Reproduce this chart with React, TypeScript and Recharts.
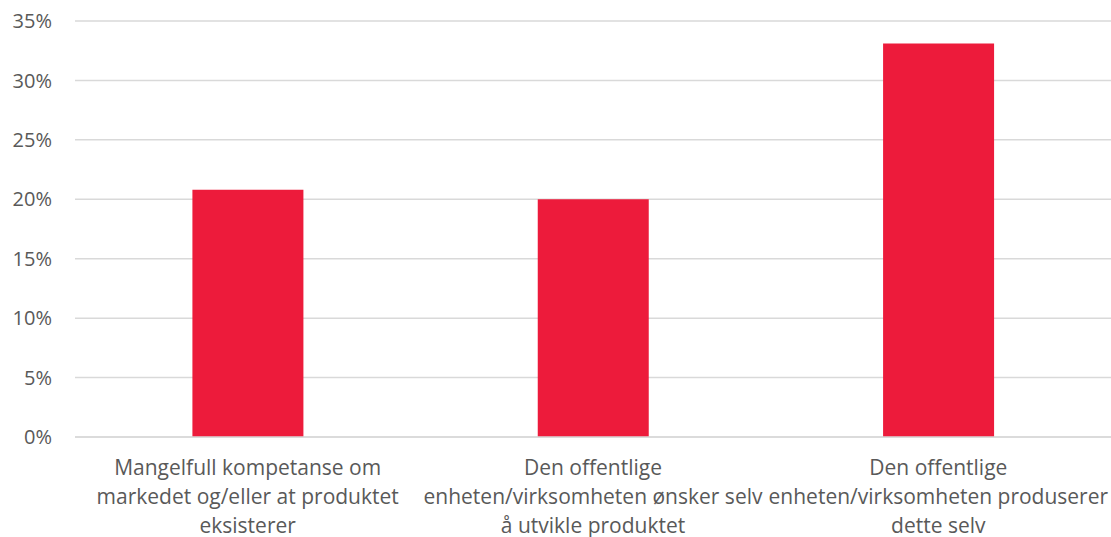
import React from "react";
import { BarChart, Bar, XAxis, YAxis, CartesianGrid } from "recharts";

const categories = [
  ["Mangelfull kompetanse om", "markedet og/eller at produktet", "eksisterer"],
  ["Den offentlige", "enheten/virksomheten ønsker selv", "å utvikle produktet"],
  ["Den offentlige", "enheten/virksomheten produserer", "dette selv"],
];
const shares = [0.208, 0.2, 0.331];
const yTicks = [0, 0.05, 0.1, 0.15, 0.2, 0.25, 0.3, 0.35];

const data = categories.map((lines, i) => ({ name: lines.join(" "), idx: i, value: shares[i] }));

const FONT = "'Open Sans', sans-serif";
const TEXT = "#595959";

function CategoryTick(props: any) {
  const { x, y, index } = props;
  const lines = categories[index] || [];
  return (
    <text x={x} y={y} textAnchor="middle" fill={TEXT} fontFamily={FONT} fontSize={21}>
      {lines.map((l, i) => (
        <tspan key={i} x={x} dy={i === 0 ? 30 : 29}>
          {l}
        </tspan>
      ))}
    </text>
  );
}

export default function App() {
  return (
    <div style={{ position: "absolute", left: 0, top: 0, background: "#fff" }}>
      <BarChart
        width={1111}
        height={537}
        data={data}
        margin={{ top: 21, right: 0, bottom: 0, left: 0 }}
        barCategoryGap="34%"
      >
        <CartesianGrid vertical={false} stroke="#d9d9d9" strokeWidth={1.5} />
        <XAxis
          dataKey="name"
          axisLine={{ stroke: "#d9d9d9", strokeWidth: 1.5 }}
          tickLine={false}
          height={100}
          interval={0}
          tick={<CategoryTick />}
        />
        <YAxis
          width={75}
          domain={[0, 0.35]}
          ticks={yTicks}
          axisLine={false}
          tickLine={false}
          tickMargin={17}
          tickFormatter={(v: number) => `${Math.round(v * 100)}%`}
          tick={{ fill: TEXT, fontFamily: FONT, fontSize: 20 }}
        />
        <Bar dataKey="value" fill="#ed1b3b" isAnimationActive={false} />
      </BarChart>
    </div>
  );
}
